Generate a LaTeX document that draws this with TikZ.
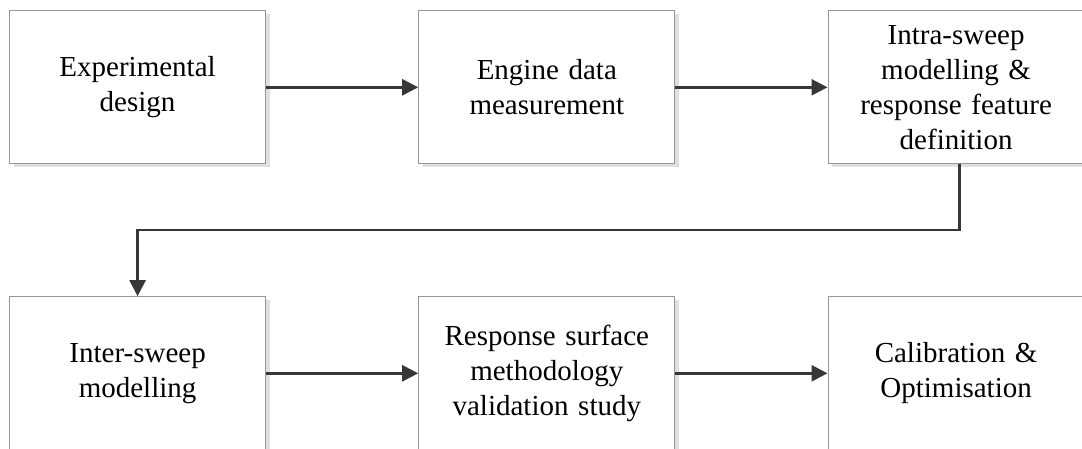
\documentclass[tikz,border=0pt]{standalone}
\usepackage{fontspec}
\setmainfont{Liberation Serif}
\usetikzlibrary{arrows.meta,shadows}
\definecolor{boxline}{RGB}{150,150,150}
\definecolor{shadowc}{RGB}{224,224,224}
\definecolor{arrowc}{RGB}{55,55,55}
\tikzset{
  procbox/.style={draw=boxline, line width=1pt, fill=white,
    minimum width=256.2pt, minimum height=153.3pt, inner sep=0pt,
    text width=250pt, align=center,
    font=\fontsize{29}{35}\selectfont,
    drop shadow={shadow xshift=4pt, shadow yshift=-3.5pt, fill=shadowc, opacity=1}},
  flow/.style={draw=arrowc, line width=2.6pt,
    -{Triangle[length=16pt,width=16pt]}}
}
\begin{document}
\begin{tikzpicture}[x=1pt,y=-1pt]
\useasboundingbox (0,0) rectangle (1082,448);
\node[procbox] (b1) at (137.6,87.3) {Experimental\\design};
\node[procbox] (b2) at (546.8,87.3) {Engine data\\measurement};
\node[procbox] (b3) at (956.1,87.3) {Intra-sweep\\modelling \&\\response feature\\definition};
\node[procbox] (b4) at (137.6,373.3) {Inter-sweep\\modelling};
\node[procbox] (b5) at (546.8,373.3) {Response surface\\methodology\\validation study};
\node[procbox] (b6) at (956.1,373.3) {Calibration \&\\Optimisation};
\coordinate (turn) at (959.7,230);
\draw[flow] (b1.east) -- (b2.west);
\draw[flow] (b2.east) -- (b3.west);
\draw[flow] (turn |- b3.south) -- (turn) -| (b4.north);
\draw[flow] (b4.east) -- (b5.west);
\draw[flow] (b5.east) -- (b6.west);
\end{tikzpicture}
\end{document}
